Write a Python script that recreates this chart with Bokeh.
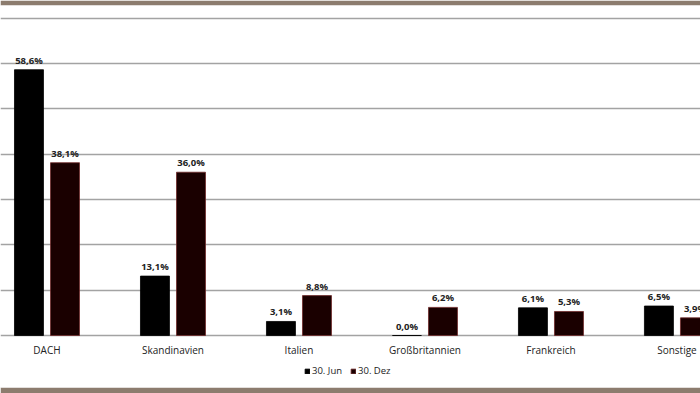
from bokeh.plotting import figure
from bokeh.models import ColumnDataSource, Range1d, Grid, FixedTicker, Legend, LegendItem
from bokeh.transform import dodge
from bokeh.core.properties import value
from bokeh.embed import file_html
from bokeh.resources import INLINE

categories = ["DACH", "Skandinavien", "Italien", "Großbritannien", "Frankreich", "Sonstige"]
jun_values = [58.6, 13.1, 3.1, 0.0, 6.1, 6.5]
dez_values = [38.1, 36.0, 8.8, 6.2, 5.3, 3.9]
series_names = ["30. Jun", "30. Dez"]
grid_ticks = [0, 10, 20, 30, 40, 50, 60, 70]

def fmt(v):
    return f"{v:.1f}".replace(".", ",") + "%"

xs = list(range(len(categories)))
src = ColumnDataSource(dict(
    x=xs, cat=categories,
    jun=jun_values, dez=dez_values,
    jun_lbl=[fmt(v) for v in jun_values],
    dez_lbl=[fmt(v) for v in dez_values],
    lab_y=[-3.1] * len(xs),
))

W, H = 700, 393
p = figure(width=W, height=H, output_backend="svg", toolbar_location=None,
           x_axis_type=None, y_axis_type=None,
           x_range=Range1d(-0.369, 5.187), y_range=Range1d(-11.46, 72.76),
           min_border_left=0, min_border_right=0, min_border_top=5, min_border_bottom=6,
           border_fill_color="#8c7c6e", background_fill_color="white",
           outline_line_color=None)

p.add_layout(Grid(dimension=1, ticker=FixedTicker(ticks=grid_ticks),
                  grid_line_color="#a3a3a3", grid_line_width=1.6))

off = 0.143
bw = 0.23
r1 = p.vbar(x=dodge("x", -off, range=p.x_range), top="jun", width=bw, source=src,
            fill_color="#000000", line_color="#000000", line_width=0.8)
r2 = p.vbar(x=dodge("x", off, range=p.x_range), top="dez", width=bw, source=src,
            fill_color="#1a0000", line_color="#6e2a2a", line_width=0.8)

lbl_font = value("Open Sans")
p.text(x=dodge("x", -off, range=p.x_range), y="jun", text="jun_lbl", source=src,
       text_align="center", text_baseline="bottom", y_offset=-3,
       text_font=lbl_font, text_font_size="9.5px", text_font_style="bold", text_color="#222222")
p.text(x=dodge("x", off, range=p.x_range), y="dez", text="dez_lbl", source=src,
       text_align="center", text_baseline="bottom", y_offset=-3,
       text_font=lbl_font, text_font_size="9.5px", text_font_style="bold", text_color="#222222")
p.text(x="x", y="lab_y", text="cat", source=src, text_align="center", text_baseline="middle",
       text_font=lbl_font, text_font_size="10px", text_color="#222222")

legend = Legend(items=[LegendItem(label=series_names[0], renderers=[r1]),
                       LegendItem(label=series_names[1], renderers=[r2])],
                orientation="horizontal", location=(304, 10),
                glyph_width=6, glyph_height=6, label_height=12, label_standoff=2,
                spacing=8, padding=0, margin=0,
                label_text_font="Open Sans", label_text_font_size="9.5px",
                label_text_color="#222222",
                background_fill_alpha=0, border_line_color=None)
p.add_layout(legend, "center")

open("out.html", "w").write(file_html(p, INLINE))
